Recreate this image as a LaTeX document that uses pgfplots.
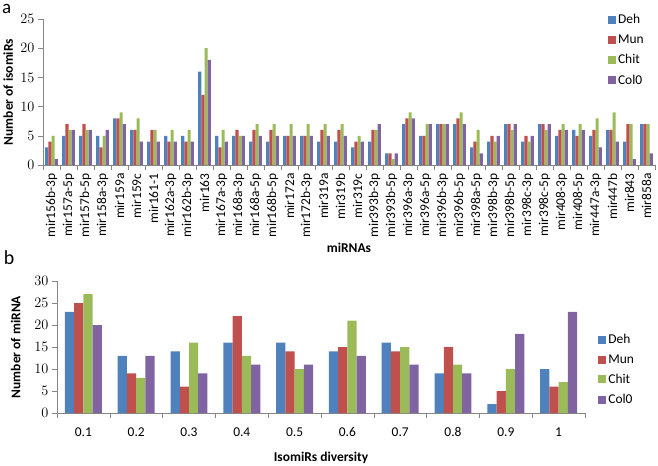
\documentclass[border=0pt]{standalone}
\usepackage{pgfplots}
\pgfplotsset{compat=1.18}
\usepackage{pgfplotstable}
\usepackage{fontspec}
\setmainfont{Carlito}
\definecolor{cDeh}{HTML}{4F81BD}
\definecolor{cMun}{HTML}{C0504D}
\definecolor{cChit}{HTML}{9BBB59}
\definecolor{cCol}{HTML}{8064A2}
\definecolor{axisgray}{HTML}{868686}

\pgfplotstableread{
x Deh Mun Chit Col0
0 3 4 5 1
1 5 7 6 6
2 5 7 6 6
3 5 3 5 6
4 8 8 9 7
5 6 6 8 4
6 4 6 6 4
7 5 4 6 4
8 5 4 6 4
9 16 12 20 18
10 5 3 6 4
11 5 6 5 5
12 4 6 7 5
13 4 6 7 5
14 5 5 7 5
15 5 5 7 5
16 4 6 7 5
17 4 6 7 5
18 3 4 5 4
19 4 6 6 7
20 2 2 1 2
21 7 8 9 8
22 5 5 7 7
23 7 7 7 7
24 7 8 9 7
25 3 4 6 2
26 4 5 4 5
27 7 7 6 7
28 4 5 4 5
29 7 7 6 7
30 5 6 7 6
31 6 5 7 6
32 5 6 8 3
33 6 6 9 4
34 4 7 7 1
35 7 7 7 2
}\dataA

\pgfplotstableread{
x Deh Mun Chit Col0
0 23 25 27 20
1 13 9 8 13
2 14 6 16 9
3 16 22 13 11
4 16 14 10 11
5 14 15 21 13
6 16 14 15 11
7 9 15 11 9
8 2 5 10 18
9 10 6 7 23
}\dataB

\pgfplotsset{
  excelstyle/.style={
    scale only axis,
    ybar,
    tick align=outside,
    axis x line*=bottom, axis y line*=left,
    axis line style={draw=axisgray,-},
    every tick/.style={draw=axisgray},
    major tick length=5bp, minor tick length=5bp,
    major x tick style={draw=none},
    tick label style={font=\fontsize{13.5}{15}\selectfont, text=black},
    label style={font=\bfseries\fontsize{13.5}{15}\selectfont},
    legend cell align=left,
    legend style={draw=none, fill=none, inner sep=0pt, row sep=5.5bp,
      font=\fontsize{13.5}{15}\selectfont, anchor=north west},
    legend image code/.code={\fill[##1,draw=none] (0bp,-4bp) rectangle (8bp,4bp);},
    ymin=0,
  }
}

\begin{document}
\begin{tikzpicture}
\useasboundingbox (0bp,0bp) rectangle (658bp,-466bp);
\node[font=\fontsize{19}{19}\selectfont, anchor=north west, inner sep=0pt] at (2bp,-4bp) {a};
\node[font=\fontsize{20}{20}\selectfont, anchor=center] at (9bp,-258bp) {b};

\begin{axis}[excelstyle,
  at={(43bp,-165bp)}, anchor=south west,
  width=612bp, height=146bp,
  xmin=-0.5, xmax=35.5, ymax=25,
  ytick={0,5,...,25},
  xtick={0,...,35},
  minor xtick={-0.5,0.5,...,35.5},
  xticklabels={mir156b-3p,mir157a-5p,mir157b-5p,mir158a-3p,mir159a,mir159c,mir161-1,mir162a-3p,mir162b-3p,mir163,mir167a-3p,mir168a-3p,mir168a-5p,mir168b-5p,mir172a,mir172b-3p,mir319a,mir319b,mir319c,mir393b-3p,mir393b-5p,mir396a-3p,mir396a-5p,mir396b-3p,mir396b-5p,mir398a-5p,mir398b-3p,mir398b-5p,mir398c-3p,mir398c-5p,mir408-3p,mir408-5p,mir447a-3p,mir447b,mir843,mir858a},
  xticklabel style={rotate=90, anchor=east},
  xlabel={miRNAs},
  xlabel style={at={(axis description cs:0.5,-0.568)}, anchor=center},
  ylabel={Number of isomiRs},
  ylabel style={at={(axis description cs:-0.057,0.5)}, anchor=center},
  legend style={at={(axis description cs:0.923,1.045)}},
]
\addplot[fill=cDeh, draw=none, bar width=0.19, bar shift=-0.285] table[x=x,y=Deh] {\dataA};
\addplot[fill=cMun, draw=none, bar width=0.19, bar shift=-0.095] table[x=x,y=Mun] {\dataA};
\addplot[fill=cChit, draw=none, bar width=0.19, bar shift=0.095] table[x=x,y=Chit] {\dataA};
\addplot[fill=cCol, draw=none, bar width=0.19, bar shift=0.285] table[x=x,y=Col0] {\dataA};
\legend{Deh,Mun,Chit,Col0}
\end{axis}

\begin{axis}[excelstyle,
  at={(57bp,-413bp)}, anchor=south west,
  width=528bp, height=132bp,
  xmin=-0.5, xmax=9.5, ymax=30,
  ytick={0,5,...,30},
  xtick={0,...,9},
  minor xtick={-0.5,0.5,...,9.5},
  xticklabels={0.1,0.2,0.3,0.4,0.5,0.6,0.7,0.8,0.9,1},
  xticklabel style={yshift=-6bp},
  xlabel={IsomiRs diversity},
  xlabel style={at={(axis description cs:0.5,-0.34)}, anchor=center},
  ylabel={Number of miRNA},
  ylabel style={at={(axis description cs:-0.078,0.5)}, anchor=center},
  legend style={at={(axis description cs:1.025,0.614)}},
]
\addplot[fill=cDeh, draw=none, bar width=0.175, bar shift=-0.2625] table[x=x,y=Deh] {\dataB};
\addplot[fill=cMun, draw=none, bar width=0.175, bar shift=-0.0875] table[x=x,y=Mun] {\dataB};
\addplot[fill=cChit, draw=none, bar width=0.175, bar shift=0.0875] table[x=x,y=Chit] {\dataB};
\addplot[fill=cCol, draw=none, bar width=0.175, bar shift=0.2625] table[x=x,y=Col0] {\dataB};
\legend{Deh,Mun,Chit,Col0}
\end{axis}
\end{tikzpicture}
\end{document}
